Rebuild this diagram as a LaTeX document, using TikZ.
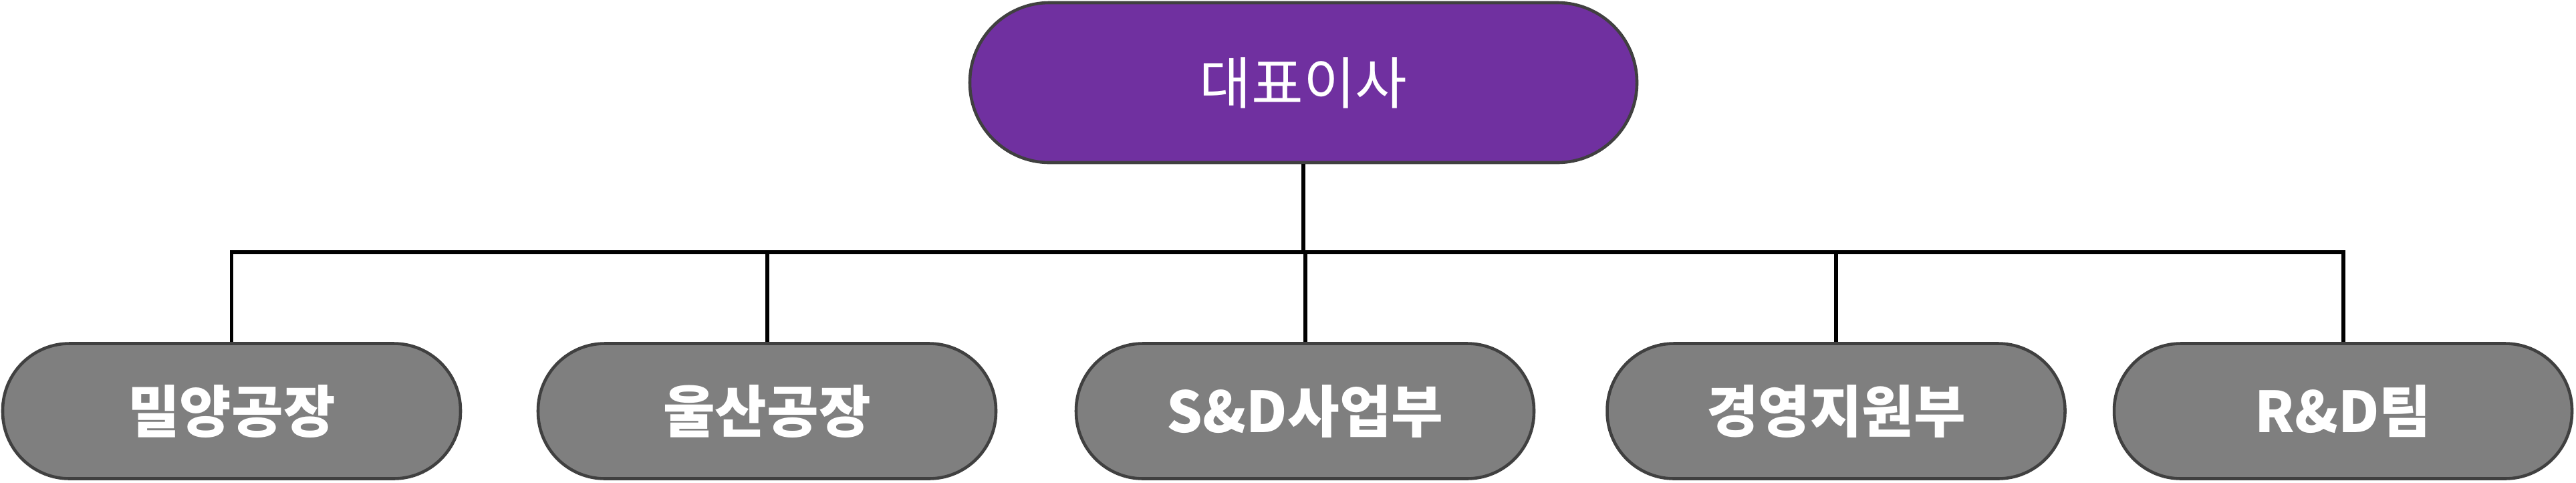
\documentclass[tikz,border=0pt]{standalone}
\usepackage{fontspec}
\setmainfont{Noto Sans CJK KR}
\usetikzlibrary{positioning}

\definecolor{ceopurple}{HTML}{7030A0}
\definecolor{deptgray}{HTML}{7F7F7F}
\definecolor{rimgray}{HTML}{404040}

\begin{document}
\begin{tikzpicture}[
    ceo/.style={draw=rimgray, line width=1.3pt, fill=ceopurple, text=white,
        minimum width=9.98cm, minimum height=2.39cm, rounded corners=1.19cm,
        font=\fontsize{24}{28}\selectfont},
    dept/.style={draw=rimgray, line width=1.3pt, fill=deptgray, text=white,
        minimum width=6.85cm, minimum height=2.02cm, rounded corners=1.0cm,
        font=\fontsize{24}{28}\selectfont\bfseries},
    link/.style={draw=black, line width=1.7pt}]

    \useasboundingbox (0,0) rectangle (38.54,-7.21);

    \node[ceo]  (ceo)     at (19.5,-1.235)    {대표이사};
    \node[dept] (miryang) at (3.465,-6.145)   {밀양공장};
    \node[dept] (ulsan)   at (11.475,-6.145)  {울산공장};
    \node[dept] (sd)      at (19.525,-6.145)  {S\&D사업부};
    \node[dept] (admin)   at (27.47,-6.145)   {경영지원부};
    \node[dept] (rnd)     at (35.055,-6.145)  {R\&D팀};

    \coordinate (bus) at (0,-3.77);
    \foreach \d in {miryang,ulsan,sd,admin,rnd}
        \draw[link] (ceo.south) -- (ceo.south |- bus) -| (\d.north);
\end{tikzpicture}
\end{document}
